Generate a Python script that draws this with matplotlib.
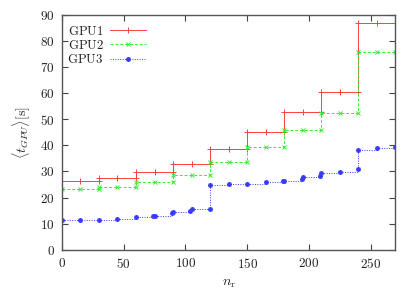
import matplotlib
matplotlib.use("Agg")
import matplotlib.pyplot as plt
from matplotlib.ticker import FuncFormatter, MultipleLocator

# ── Data ────────────────────────────────────────────────────────────────────
n_gpu1 = [0, 15, 30, 30, 45, 60, 60, 75, 90, 90, 105, 120, 120, 135,
          150, 150, 165, 180, 180, 195, 210, 210, 225, 240, 240, 255, 270]
t_gpu1 = [26.5, 26.5, 26.5, 27.5, 27.5, 27.5, 29.8, 29.8, 29.8, 32.9, 32.9,
          32.9, 38.5, 38.5, 38.5, 45.2, 45.2, 45.2, 52.6, 52.6, 52.6, 60.2,
          60.2, 60.2, 86.7, 86.7, 86.7]

n_gpu2 = [0, 15, 30, 30, 45, 60, 60, 75, 90, 90, 105, 120, 120, 135,
          150, 150, 165, 180, 180, 195, 210, 210, 225, 240, 240, 255, 270]
t_gpu2 = [23.2, 23.2, 23.2, 24.1, 24.1, 24.1, 26.0, 26.0, 26.0, 28.8, 28.8,
          28.8, 33.5, 33.5, 33.5, 39.4, 39.4, 39.4, 45.9, 45.9, 45.9, 52.3,
          52.3, 52.3, 75.6, 75.6, 75.6]

n_gpu3 = [0, 15, 30, 45, 60, 74, 75, 89, 90, 104, 105, 120, 120, 135, 150,
          165, 179, 180, 194, 195, 209, 210, 225, 240, 240, 255, 270]
t_gpu3 = [11.4, 11.4, 11.6, 11.9, 12.5, 12.8, 13.1, 14.2, 14.7, 14.8, 15.5,
          15.6, 24.9, 25.1, 25.4, 25.9, 26.2, 26.5, 27.0, 28.0, 28.3, 29.6,
          29.8, 31.1, 38.2, 38.9, 39.3]

plt.rcParams["mathtext.fontset"] = "cm"
plt.rcParams["font.family"] = "DejaVu Serif"

fig = plt.figure(figsize=(4.15, 2.91), dpi=100)
ax = fig.add_axes([0.149, 0.141, 0.804, 0.809])

ax.plot(n_gpu1, t_gpu1, drawstyle="steps-post", color="#ff4040", lw=0.7,
        marker="+", ms=4.5, mew=0.7, label=r"$\mathrm{GPU1}$")
ax.plot(n_gpu2, t_gpu2, drawstyle="steps-post", color="#33ee33", lw=0.7,
        ls=(0, (3, 2)), marker="x", ms=3.5, mew=0.7, label=r"$\mathrm{GPU2}$")
ax.plot(n_gpu3, t_gpu3, drawstyle="steps-post", color="#3a3aff", lw=0.7,
        ls=(0, (1, 1.5)), marker=(8, 2, 0), ms=3.5, mew=0.8,
        label=r"$\mathrm{GPU3}$")

ax.set_xlim(0, 270)
ax.set_ylim(0, 90)
ax.xaxis.set_major_locator(MultipleLocator(50))
ax.yaxis.set_major_locator(MultipleLocator(10))
fmt = FuncFormatter(lambda v, p: f"${v:g}$")
ax.xaxis.set_major_formatter(fmt)
ax.yaxis.set_major_formatter(fmt)
ax.tick_params(direction="in", top=True, right=True, length=4, width=0.8,
               color="#444444", labelsize=9.5, labelcolor="#222222", pad=5)
for s in ax.spines.values():
    s.set_color("#555555")
    s.set_linewidth(1.0)

ax.set_xlabel(r"$n_\mathrm{r}$", fontsize=10, color="#222222", labelpad=4)
ax.set_ylabel(r"$\langle t_{GPU}\rangle[\mathrm{s}]$", fontsize=10,
              color="#222222", labelpad=5)

leg = ax.legend(loc="upper left", bbox_to_anchor=(-0.01, 0.995), frameon=False,
                markerfirst=False, fontsize=9.2, handlelength=2.8,
                handletextpad=0.5, labelspacing=0.1, borderaxespad=0.3)
for t in leg.get_texts():
    t.set_color("#222222")

fig.savefig("out.png", dpi=100)
